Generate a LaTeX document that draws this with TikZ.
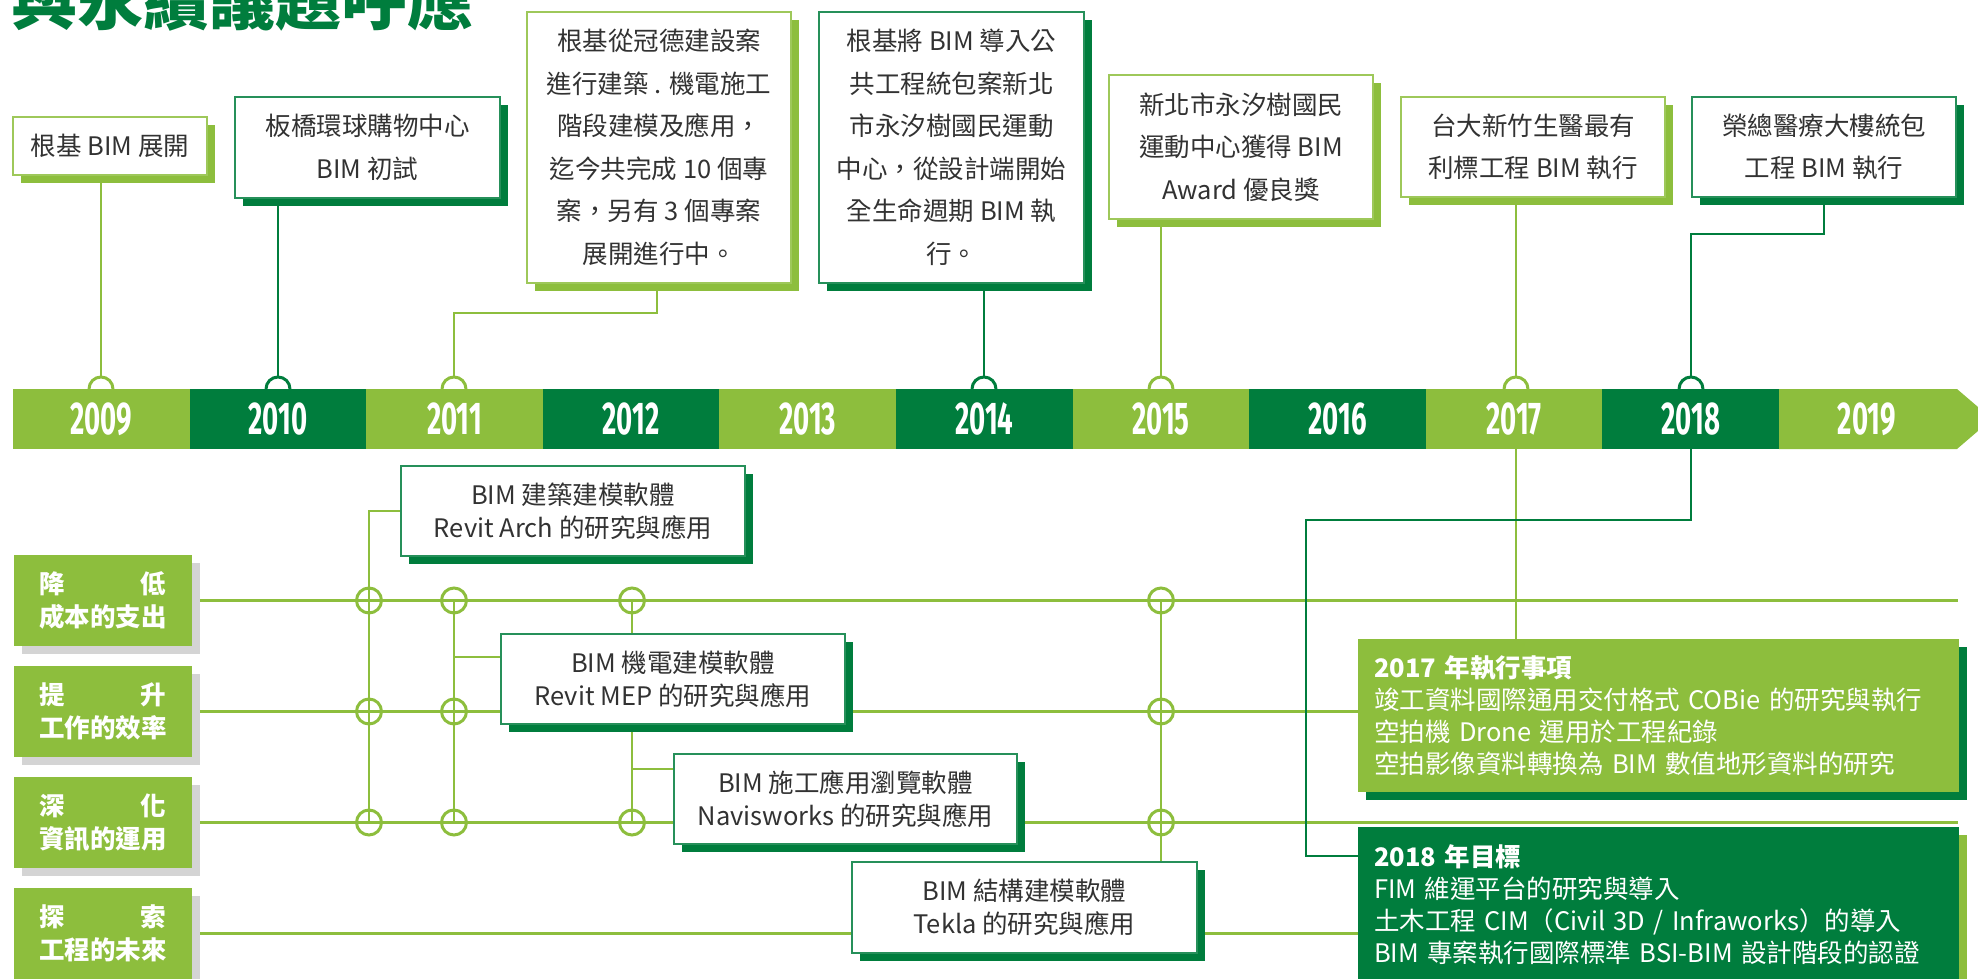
\documentclass[tikz,border=0pt]{standalone}
\usepackage{fontspec}
\setmainfont{Noto Sans CJK TC}
\newfontfamily\yearfont{Fira Sans}
\usetikzlibrary{shadows,backgrounds}
\definecolor{dg}{RGB}{0,125,61}
\definecolor{lg}{RGB}{141,190,61}
\definecolor{sg}{RGB}{212,212,212}
\definecolor{tx}{RGB}{50,50,50}
\begin{document}
\begin{tikzpicture}[x=1pt,y=-1pt,
  every node/.style={inner sep=0pt,outer sep=0pt},
  boxbase/.style={anchor=north west,fill=white,line width=1.5pt,align=center,text=tx,
    font=\fontsize{25.5pt}{42.5pt}\selectfont},
  boxl/.style={boxbase,draw=lg!85!white,general shadow={fill=lg,shadow xshift=8pt,shadow yshift=-8pt}},
  boxd/.style={boxbase,draw=dg!85!white,general shadow={fill=dg,shadow xshift=8pt,shadow yshift=-8pt}},
  lowbox/.style={boxd,font=\fontsize{25.5pt}{33pt}\selectfont},
  lab/.style={anchor=north west,fill=lg,text=white,minimum width=178pt,minimum height=91pt,align=center,
    font=\bfseries\fontsize{25.5pt}{33pt}\selectfont,general shadow={fill=sg,shadow xshift=8pt,shadow yshift=-8pt}},
  goal/.style={anchor=north west,text=white,text width=569pt,inner xsep=16pt,align=left,
    font=\fontsize{25.5pt}{32pt}\selectfont},
  yearlbl/.style={text=white,font=\yearfont\bfseries\fontsize{46pt}{46pt}\selectfont},
  conl/.style={draw=lg,line width=2pt},
  cond/.style={draw=dg,line width=2pt},
  rowl/.style={draw=lg,line width=2.4pt},
  archl/.style={draw=lg,line width=3pt},
  archd/.style={draw=dg,line width=3pt},
  ring/.style={draw=lg,line width=3pt}
]
\useasboundingbox (0,0) rectangle (1978,979);
\clip (0,0) rectangle (1978,979);

% title
\node[anchor=base west,text=dg,font=\bfseries\fontsize{66pt}{66pt}\selectfont] (title) at (12,25) {與永續議題呼應};

% time bar
\foreach \i in {0,...,9}{
  \pgfmathtruncatemacro\yr{2009+\i}
  \pgfmathsetmacro\xa{13+176.6*\i}
  \pgfmathsetmacro\xb{13+176.6*(\i+1)}
  \ifodd\i \def\segcol{dg}\else\def\segcol{lg}\fi
  \fill[\segcol] (\xa,389) rectangle (\xb,449);
  \node[yearlbl] (y\yr) at ({(\xa+\xb)/2},419) {\scalebox{0.6}[1]{\yr}};
}
\fill[lg] (1779,389) -- (1957,389) -- (1992,419) -- (1957,449) -- (1779,449) -- cycle;
\node[yearlbl] (y2019) at (1867,419) {\scalebox{0.6}[1]{2019}};

% top milestone boxes
\node[boxl,minimum width=194pt,minimum height=58pt] (b09) at (13,117) {根基 BIM 展開};
\node[boxd,minimum width=265pt,minimum height=101pt] (b10) at (235,97) {板橋環球購物中心\\BIM 初試};
\node[boxl,minimum width=264pt,minimum height=271pt] (b11) at (527,12)
  {根基從冠德建設案\\進行建築 . 機電施工\\階段建模及應用，\\迄今共完成 10 個專\\案，另有 3 個專案\\展開進行中。};
\node[boxd,minimum width=265pt,minimum height=271pt] (b14) at (819,12)
  {根基將 BIM 導入公\\共工程統包案新北\\市永汐樹國民運動\\中心，從設計端開始\\全生命週期 BIM 執\\行。};
\node[boxl,minimum width=264pt,minimum height=144pt] (b15) at (1109,75) {新北市永汐樹國民\\運動中心獲得 BIM\\Award 優良獎};
\node[boxl,minimum width=264pt,minimum height=100pt] (b17) at (1401,97) {台大新竹生醫最有\\利標工程 BIM 執行};
\node[boxd,minimum width=264pt,minimum height=100pt] (b18) at (1692,97) {榮總醫療大樓統包\\工程 BIM 執行};

% left labels
\node[lab] (l1) at (14,555) {\makebox[127pt]{降\hfill 低}\\成本的支出};
\node[lab] (l2) at (14,666) {\makebox[127pt]{提\hfill 升}\\工作的效率};
\node[lab] (l3) at (14,777) {\makebox[127pt]{深\hfill 化}\\資訊的運用};
\node[lab] (l4) at (14,888) {\makebox[127pt]{探\hfill 索}\\工程的未來};

% software boxes
\node[lowbox,minimum width=344pt,minimum height=90pt] (arch) at (401,466) {BIM 建築建模軟體\\Revit Arch 的研究與應用};
\node[lowbox,minimum width=344pt,minimum height=90pt] (mep) at (501,634) {BIM 機電建模軟體\\Revit MEP 的研究與應用};
\node[lowbox,minimum width=343pt,minimum height=90pt] (navis) at (674,754) {BIM 施工應用瀏覽軟體\\Navisworks 的研究與應用};
\node[lowbox,minimum width=345pt,minimum height=91pt] (tekla) at (852,862) {BIM 結構建模軟體\\Tekla 的研究與應用};

% goal boxes
\node[goal,fill=lg,minimum height=153pt,general shadow={fill=dg,shadow xshift=8pt,shadow yshift=-8pt}] (g17) at (1358,639)
  {\textbf{2017 年執行事項}\\竣工資料國際通用交付格式 COBie 的研究與執行\\空拍機 Drone 運用於工程紀錄\\空拍影像資料轉換為 BIM 數值地形資料的研究};
\node[goal,fill=dg,minimum height=156pt,general shadow={fill=lg,shadow xshift=8pt,shadow yshift=-8pt}] (g18) at (1358,827)
  {\textbf{2018 年目標}\\FIM 維運平台的研究與導入\\土木工程 CIM（Civil 3D / Infraworks）的導入\\BIM 專案執行國際標準 BSI-BIM 設計階段的認證};

% coordinates
\coordinate (a09) at (101,389);  \coordinate (t09) at (101,377);
\coordinate (a10) at (278,389);  \coordinate (t10) at (278,377);
\coordinate (a11) at (454,389);  \coordinate (t11) at (454,377);
\coordinate (a14) at (984,389);  \coordinate (t14) at (984,377);
\coordinate (a15) at (1161,389); \coordinate (t15) at (1161,377);
\coordinate (a17) at (1516,389); \coordinate (t17) at (1516,377);
\coordinate (a18) at (1691,389); \coordinate (t18) at (1691,377);
\coordinate (k11) at (657,313);
\coordinate (k18) at (1824,234);
\coordinate (d17) at (1516,449);
\coordinate (d18) at (1691,449);
\coordinate (e18) at (1306,520);
\coordinate (f18) at (1306,856);
\coordinate (r1e) at (1958,600.5);
\coordinate (r3e) at (1958,822.5);
\coordinate (v1b) at (369,822.5);
\coordinate (v2a) at (454,600.5);
\coordinate (v2b) at (454,822.5);
\coordinate (v2m) at (454,657);
\coordinate (v3a) at (632,600.5);
\coordinate (v3b) at (632,822.5);
\coordinate (v3m) at (632,769);
\coordinate (v4a) at (1161,600.5);

% arches on the bar
\draw[archl] (a09) ++(-12pt,0) arc[start angle=180,end angle=0,radius=12pt];
\draw[archd] (a10) ++(-12pt,0) arc[start angle=180,end angle=0,radius=12pt];
\draw[archl] (a11) ++(-12pt,0) arc[start angle=180,end angle=0,radius=12pt];
\draw[archd] (a14) ++(-12pt,0) arc[start angle=180,end angle=0,radius=12pt];
\draw[archl] (a15) ++(-12pt,0) arc[start angle=180,end angle=0,radius=12pt];
\draw[archl] (a17) ++(-12pt,0) arc[start angle=180,end angle=0,radius=12pt];
\draw[archd] (a18) ++(-12pt,0) arc[start angle=180,end angle=0,radius=12pt];

\begin{pgfonlayer}{background}
  % top connectors
  \draw[conl] (b09.south -| t09) -- (t09);
  \draw[cond] (b10.south -| t10) -- (t10);
  \draw[conl] (b11.south -| k11) -- (k11) -| (t11);
  \draw[cond] (b14.south -| t14) -- (t14);
  \draw[conl] (b15.south -| t15) -- (t15);
  \draw[conl] (b17.south -| t17) -- (t17);
  \draw[cond] (b18.south -| k18) -- (k18) -| (t18);
  % rows
  \draw[rowl] (l1.east) -- (r1e);
  \draw[rowl] (l2.east) -- (l2.east -| g17.west);
  \draw[rowl] (l3.east) -- (r3e);
  \draw[rowl] (l4.east) -- (l4.east -| g18.west);
  % verticals
  \draw[rowl] (arch.west) -| (v1b);
  \draw[rowl] (v2a) -- (v2b);
  \draw[rowl] (v2m) -- (v2m -| mep.west);
  \draw[rowl] (v3a) -- (v3b);
  \draw[rowl] (v3m) -- (v3m -| navis.west);
  \draw[rowl] (v4a) -- (v4a |- tekla.north);
  % below-bar connectors
  \draw[conl] (d17) -- (d17 |- g17.north);
  \draw[cond] (d18) |- (e18) -- (f18) -- (f18 -| g18.west);
  % rings
  \foreach \cx/\cy in {369/600.5,369/711.5,369/822.5,454/600.5,454/711.5,454/822.5,632/600.5,632/822.5,1161/600.5,1161/711.5,1161/822.5}
    {\draw[ring] (\cx,\cy) circle[radius=12.5pt];}
\end{pgfonlayer}
\end{tikzpicture}
\end{document}
